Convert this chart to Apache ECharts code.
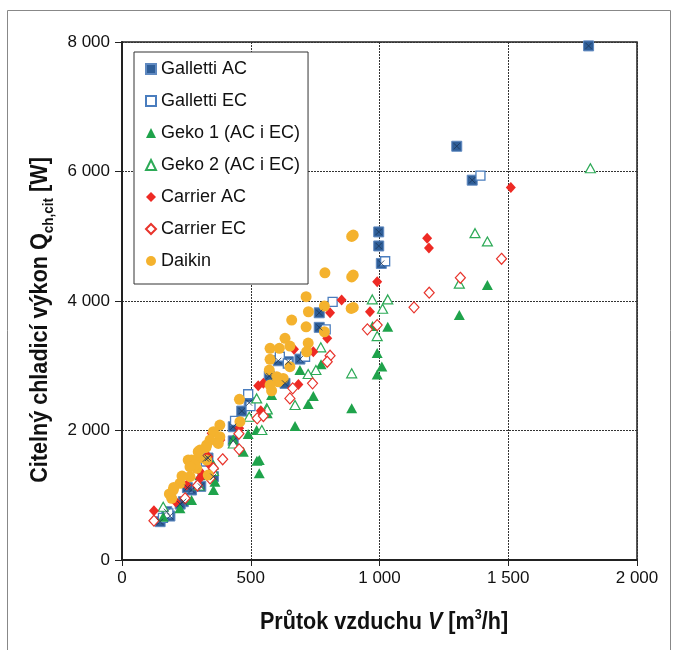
<!DOCTYPE html>
<html>
<head>
<meta charset="utf-8">
<script src="https://cdn.jsdelivr.net/npm/echarts@6/dist/echarts.min.js"></script>
<style>
html,body{margin:0;padding:0;background:#fff;}
#chart{width:675px;height:650px;}
</style>
</head>
<body>
<div id="chart"></div>
<script>
// ---- Data: [air flow V (m3/h), sensible cooling capacity (W)] ----
const galletti_ac = [[1812,7940],[1300,6390],[1360,5866],[997,5067],[997,4850],[1007,4580],[766,3818],[766,3593],[691,3103],[607,3077],[646,3062],[572,2841],[633,2728],[494,2429],[465,2300],[432,2058],[432,1840],[334,1575],[326,1566],[355,1287],[306,1137],[270,1081],[254,1118],[238,901],[226,863],[186,679],[174,746],[148,592]];
const galletti_ec = [[1392,5936],[1022,4614],[818,3988],[791,3562],[613,3139],[711,3139],[644,3035],[490,2560],[499,2377],[439,2150],[326,1521],[246,1246],[159,652],[180,720]];
const geko1 = [[1419,4249],[1310,3783],[1032,3602],[973,3613],[991,3195],[1009,2990],[991,2863],[892,2342],[773,3022],[691,2934],[743,2532],[723,2409],[672,2069],[581,2548],[564,2265],[523,2007],[490,1946],[432,1863],[471,1672],[533,1544],[524,1534],[533,1338],[361,1209],[355,1470],[355,1081],[303,1310],[270,926],[225,798],[160,669]];
const geko2 = [[1819,6051],[1371,5048],[1419,4920],[1310,4268],[972,4025],[1032,4025],[1012,3880],[991,3458],[772,3284],[753,2934],[723,2872],[892,2883],[672,2393],[523,2496],[562,2342],[564,2326],[494,2213],[543,2007],[432,1800],[355,1374],[160,823],[300,1150]];
const carrier_ac = [[1510,5751],[1185,4971],[1192,4818],[991,4297],[853,4014],[963,3834],[808,3818],[797,3423],[743,3216],[668,3253],[685,2712],[529,2691],[549,2728],[539,2305],[455,2033],[348,1956],[382,1853],[335,1595],[329,1595],[309,1338],[340,1470],[303,1261],[251,1158],[209,895],[124,761]];
const carrier_ec = [[1474,4652],[1314,4358],[1193,4128],[1134,3902],[991,3628],[953,3562],[808,3155],[797,3062],[740,2728],[663,2651],[652,2496],[525,2188],[549,2223],[455,1709],[454,1949],[391,1555],[355,1416],[342,1261],[293,1150],[245,953],[124,607]];
const daikin = [[898,5018],[892,4997],[898,4400],[892,4371],[788,4436],[715,4066],[724,3834],[786,3922],[898,3900],[890,3885],[715,3602],[786,3525],[659,3706],[723,3350],[633,3423],[575,3269],[611,3269],[652,3304],[717,3216],[575,3099],[652,2985],[572,2934],[601,2830],[626,2805],[607,2753],[575,2702],[581,2614],[456,2481],[458,2136],[380,2084],[355,1981],[380,1904],[342,1853],[374,1801],[303,1698],[296,1570],[270,1544],[329,1544],[290,1416],[264,1287],[335,1312],[199,1081],[193,953],[225,1184],[233,1297],[257,1544],[283,1467],[296,1672],[329,1776],[184,1020],[201,1120],[264,1438],[326,1738]];
const seriesNames = ['Galletti AC','Galletti EC','Geko 1 (AC i EC)','Geko 2 (AC i EC)','Carrier AC','Carrier EC','Daikin'];
const xTicks = [0, 500, 1000, 1500, 2000];
const yTicks = [0, 2000, 4000, 6000, 8000];

const fmt = v => v < 1000 ? String(v) : Math.floor(v/1000) + ' ' + String(v % 1000).padStart(3, '0');
const FONT = "'Liberation Sans', Arial, sans-serif";

const chart = echarts.init(document.getElementById('chart'), null, {renderer: 'canvas'});
const option = {
  animation: false,
  backgroundColor: '#fff',
  grid: {left: 122, top: 42, right: 38, bottom: 90, show: true, borderColor: '#222', borderWidth: 1.5, backgroundColor: 'transparent'},
  xAxis: {
    type: 'value', min: xTicks[0], max: xTicks[xTicks.length-1], interval: 500,
    axisLine: {show: true, lineStyle: {color: '#222', width: 2}},
    axisTick: {show: true, inside: false, length: 6, lineStyle: {color: '#222', width: 1}},
    axisLabel: {formatter: fmt, fontFamily: FONT, fontSize: 17, color: '#111', margin: 10},
    splitLine: {show: true, lineStyle: {color: '#333', type: [2, 1], width: 1}}
  },
  yAxis: {
    type: 'value', min: yTicks[0], max: yTicks[yTicks.length-1], interval: 2000,
    axisLine: {show: true, lineStyle: {color: '#222', width: 2}},
    axisTick: {show: true, inside: false, length: 7, lineStyle: {color: '#222', width: 1}},
    axisLabel: {formatter: fmt, fontFamily: FONT, fontSize: 17, color: '#111', margin: 12},
    splitLine: {show: true, lineStyle: {color: '#333', type: [2, 1], width: 1}}
  },
  legend: {
    data: seriesNames,
    orient: 'vertical', left: 134, top: 52,
    itemWidth: 10, itemHeight: 10, itemGap: 14,
    padding: [8, 8, 14, 11],
    borderColor: '#333', borderWidth: 1, backgroundColor: '#fff',
    textStyle: {fontFamily: FONT, fontSize: 18, color: '#111'},
    z: 10
  },
  series: [
    {name: seriesNames[0], type: 'scatter', data: galletti_ac, symbol: 'rect', symbolSize: 10,
     itemStyle: {color: '#2F5E98', borderColor: '#5F89C0', borderWidth: 1, opacity: 1}},
    {name: 'Galletti AC x', type: 'scatter', data: galletti_ac, symbol: 'path://M0,0L10,10M10,0L0,10', symbolSize: 6, silent: true,
     itemStyle: {color: 'transparent', borderColor: '#1B3658', borderWidth: 1}, z: 3},
    {name: seriesNames[1], type: 'scatter', data: galletti_ec, symbol: 'rect', symbolSize: 9,
     itemStyle: {color: '#fff', borderColor: '#4A7DBE', borderWidth: 1.3, opacity: 1}},
    {name: seriesNames[2], type: 'scatter', data: geko1, symbol: 'triangle', symbolSize: [11, 10],
     itemStyle: {color: '#1FA34B', opacity: 1}},
    {name: seriesNames[3], type: 'scatter', data: geko2, symbol: 'triangle', symbolSize: [10, 9],
     itemStyle: {color: '#fff', borderColor: '#2DAA57', borderWidth: 1.2, opacity: 1}},
    {name: seriesNames[4], type: 'scatter', data: carrier_ac, symbol: 'diamond', symbolSize: [10, 11],
     itemStyle: {color: '#EE2A24', opacity: 1}},
    {name: seriesNames[5], type: 'scatter', data: carrier_ec, symbol: 'diamond', symbolSize: [10, 11],
     itemStyle: {color: '#fff', borderColor: '#E8342C', borderWidth: 1.2, opacity: 1}},
    {name: seriesNames[6], type: 'scatter', data: daikin, symbol: 'circle', symbolSize: 11,
     itemStyle: {color: '#F4B22E', opacity: 1}}
  ],
  graphic: [
    {type: 'rect', left: 5, top: 8, shape: {width: 663, height: 660}, silent: true, z: -10,
     style: {fill: 'none', stroke: '#888', lineWidth: 1}},
    {type: 'text', x: 40, y: 320, rotation: Math.PI/2, scaleX: 0.9, silent: true,
     style: {
       text: '{b|Citelný chladicí výkon Q}{s|ch,cit}{b| [W]}',
       align: 'center', verticalAlign: 'middle',
       rich: {
         b: {fontFamily: FONT, fontWeight: 'bold', fontSize: 24, fill: '#111', lineHeight: 32, verticalAlign: 'middle'},
         s: {fontFamily: FONT, fontWeight: 'bold', fontSize: 15, fill: '#111', lineHeight: 32, verticalAlign: 'bottom'}
       }
     }},
    {type: 'text', x: 384, y: 622, scaleX: 0.9, silent: true,
     style: {
       text: '{b|Průtok vzduchu }{i|V}{b| [m}{p|3}{b|/h]}',
       align: 'center', verticalAlign: 'middle',
       rich: {
         b: {fontFamily: FONT, fontWeight: 'bold', fontSize: 24, fill: '#111', lineHeight: 28, verticalAlign: 'middle'},
         i: {fontFamily: FONT, fontWeight: 'bold', fontStyle: 'italic', fontSize: 24, fill: '#111', lineHeight: 28, verticalAlign: 'middle'},
         p: {fontFamily: FONT, fontWeight: 'bold', fontSize: 14, fill: '#111', lineHeight: 28, verticalAlign: 'top'}
       }
     }}
  ]
};
chart.setOption(option);
</script>
</body>
</html>
